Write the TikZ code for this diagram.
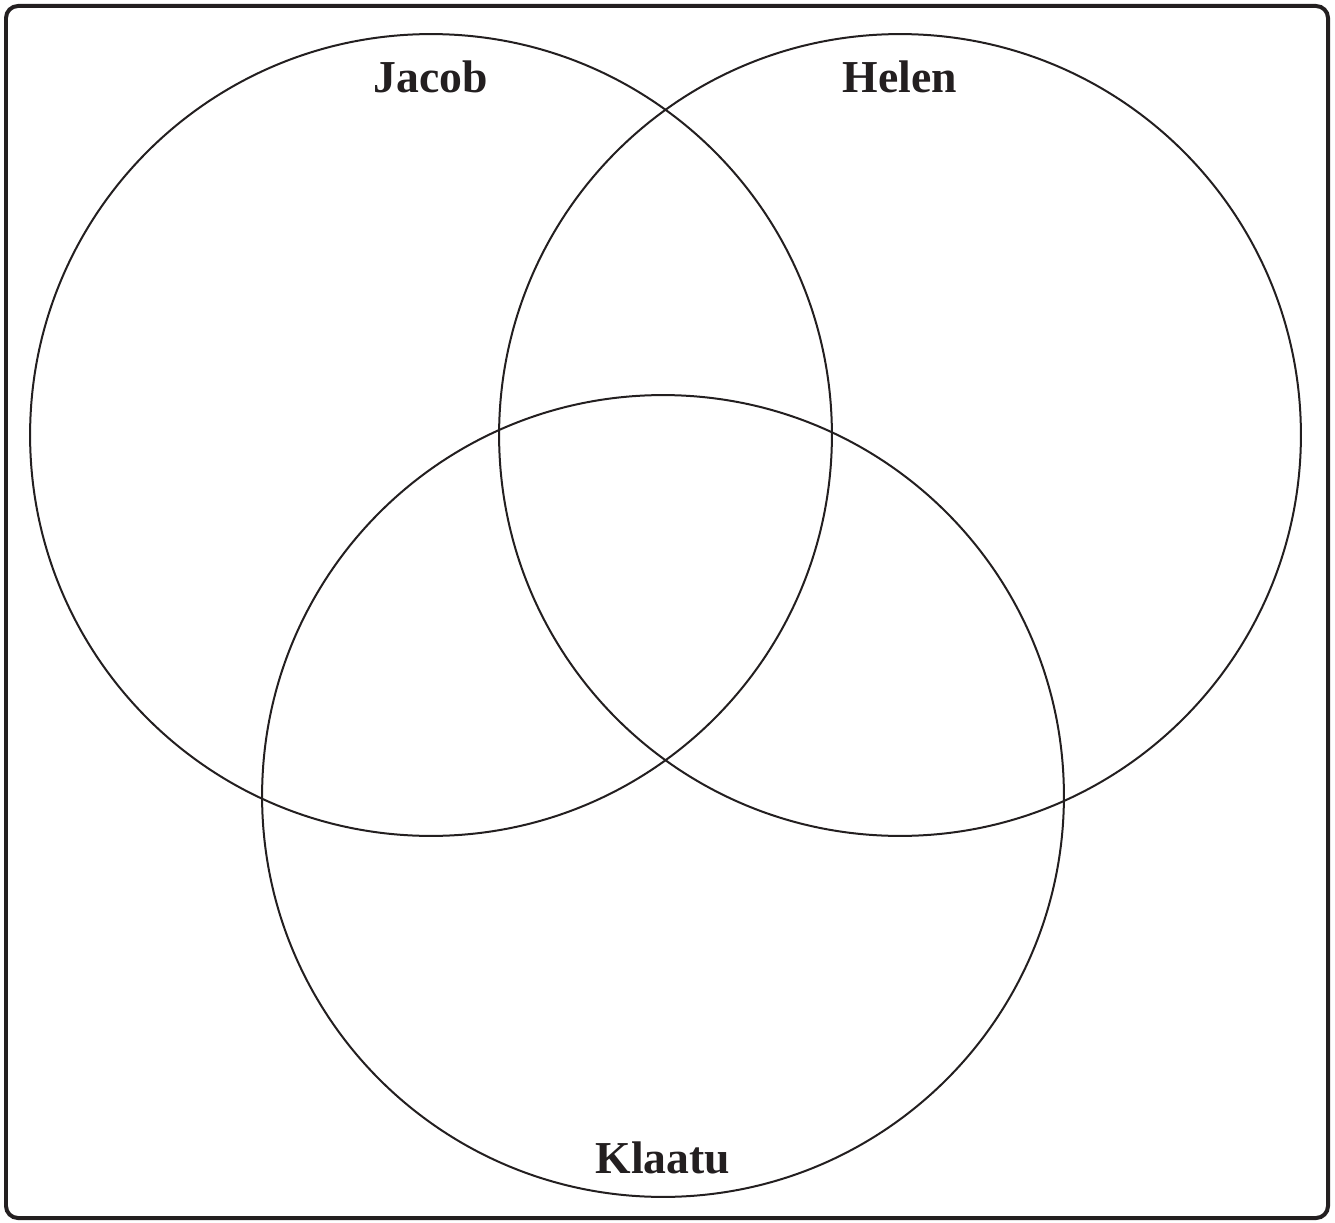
\documentclass[tikz,border=0pt]{standalone}
\usepackage{fontspec}
\setmainfont{Liberation Serif}
\usetikzlibrary{positioning}

\definecolor{inkdark}{HTML}{231F20}

\begin{document}
\begin{tikzpicture}[
  x=0.02cm, y=-0.02cm,
  setc/.style={
    circle, draw=inkdark, line width=0.04cm,
    minimum size=16.04cm, inner sep=0pt
  },
  lbl/.style={
    font=\fontsize{26}{30}\selectfont\bfseries, text=inkdark,
    inner sep=0pt, anchor=base
  },
  frame/.style={draw=inkdark, line width=0.08cm, rounded corners=0.24cm}
]

\useasboundingbox (0,0) rectangle (1335,1223);

% === Outer frame ===
\draw[frame] (6,6) rectangle (1328,1218);

% === The three sets ===
\node[setc] (jacob)  at (431,435) {};
\node[setc] (helen)  at (900,435) {};
\node[setc] (klaatu) at (663,796) {};

% === Set names ===
\node[lbl, below=1.18cm of jacob.north, anchor=base]  (jacobname)  {Jacob};
\node[lbl, below=1.18cm of helen.north, anchor=base]  (helenname)  {Helen};
\node[lbl, above=0.48cm of klaatu.south, anchor=base] (klaatuname) {Klaatu};

\end{tikzpicture}
\end{document}
